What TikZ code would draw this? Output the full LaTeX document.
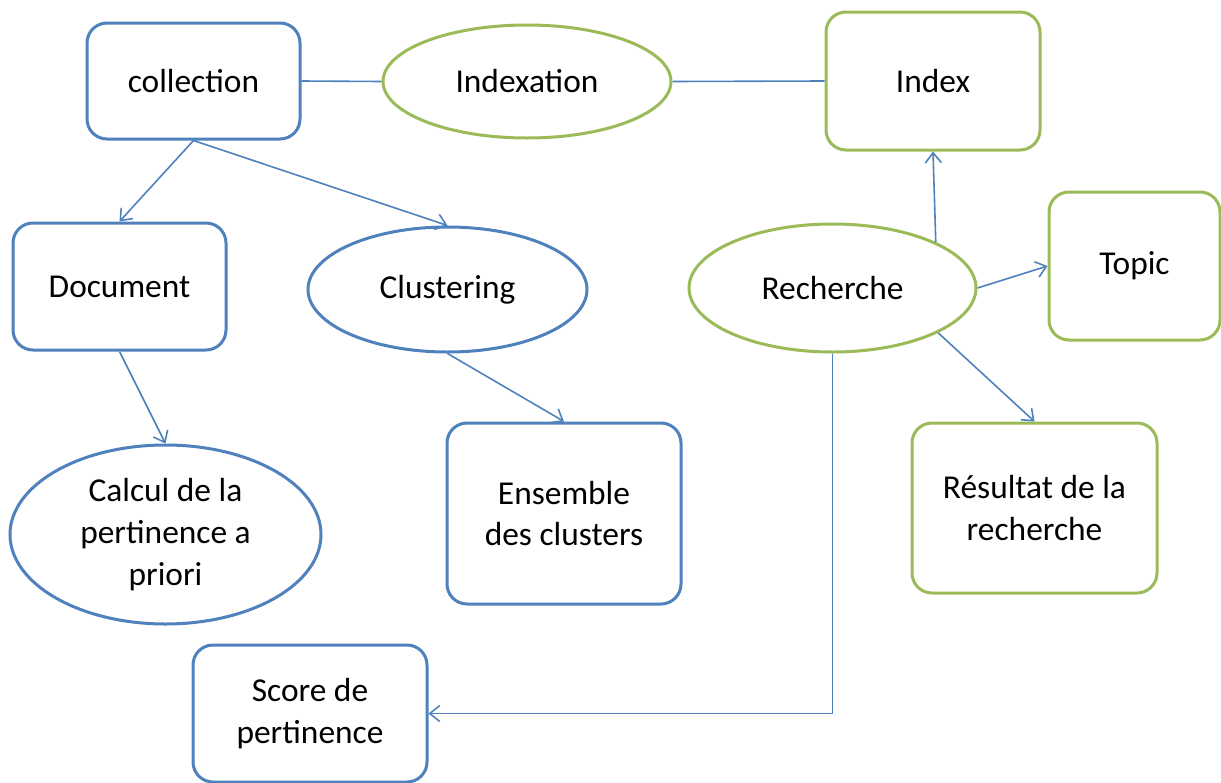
\documentclass[tikz,border=0pt]{standalone}
\usepackage{fontspec}
\setmainfont{Carlito}
\usetikzlibrary{arrows.meta,shapes.geometric}
\definecolor{accblue}{HTML}{4F81BD}
\definecolor{accgreen}{HTML}{9BBB59}
\tikzset{
  base/.style={line width=1.5pt, inner sep=0pt, align=center,
    font=\fontsize{16.7}{20.8}\selectfont, fill=white},
  bbox/.style={base, draw=accblue, rectangle, rounded corners=10pt},
  gbox/.style={base, draw=accgreen, rectangle, rounded corners=10pt},
  bell/.style={base, draw=accblue, ellipse},
  gell/.style={base, draw=accgreen, ellipse},
  link/.style={draw=accblue, line width=0.8pt},
  arr/.style={link, -{Straight Barb[length=5pt,width=8pt]}},
}
\begin{document}
\begin{tikzpicture}[x=0.5pt,y=-0.5pt]
\useasboundingbox (0,0) rectangle (1221,782);

% top row
\node[bbox, minimum width=106.5pt, minimum height=58pt] (coll) at (193.5,81) {collection};
\node[gell, minimum width=144pt, minimum height=56.5pt] (idx) at (527,81.5) {Indexation};
\node[gbox, minimum width=107pt, minimum height=69pt] (index) at (933,81) {Index};

% middle row
\node[bbox, minimum width=106.5pt, minimum height=63.5pt] (doc) at (119.5,286.5) {Document};
\node[bell, minimum width=139.5pt, minimum height=62.5pt] (clus) at (447.5,289.5) {Clustering};
\node[gell, minimum width=143.5pt, minimum height=64pt] (rech) at (832.5,288) {Recherche};
\node[gbox, minimum width=85.5pt, minimum height=74pt] (topic) at (1134.5,266) {Topic};

% lower row
\node[bell, minimum width=155.5pt, minimum height=89.5pt] (calc) at (165.5,534.5) {Calcul de la\\pertinence a\\priori};
\node[bbox, minimum width=117pt, minimum height=90.5pt] (ens) at (564,513.5) {Ensemble\\des clusters};
\node[gbox, minimum width=122.5pt, minimum height=85pt] (res) at (1034.5,508) {Résultat de la\\recherche};
\node[bbox, minimum width=117pt, minimum height=68.5pt] (score) at (310,713.5) {Score de\\pertinence};

% connectors
\draw[link] (coll.east) -- (idx.west);
\draw[link] (idx.east) -- (index.west);
\draw[arr] (coll.south) -- (doc.north);
\draw[arr] (coll.south) -- (clus.north);
\draw[arr] (doc.south) -- (calc.north);
\draw[arr] (clus.south) -- (ens.north);
\draw[arr] (rech.24.5) -- (index.south);
\draw[arr] (rech.east) -- (topic.west);
\draw[arr] (rech.-23) -- (res.north);
\draw[arr] (rech.south) |- (score.east);
\end{tikzpicture}
\end{document}
